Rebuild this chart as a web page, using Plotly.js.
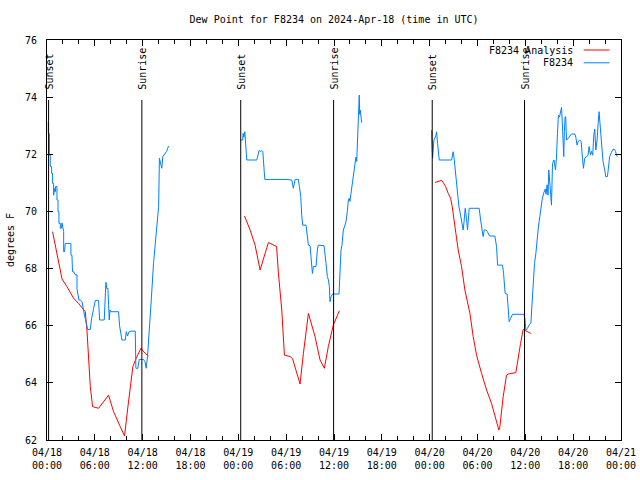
<!DOCTYPE html>
<html>
<head>
<meta charset="utf-8">
<script src="https://cdn.plot.ly/plotly-3.0.1.min.js"></script>
<style>html,body{margin:0;padding:0;background:#fff;}#chart{width:640px;height:480px;}</style>
</head>
<body>
<div id="chart"></div>
<script>
// hours since 2024-04-18 00:00 UTC, dew point in degrees F
const obsDay1Hours = [0.16,0.16,0.29,0.29,0.41,0.41,0.58,0.58,0.7,0.7,0.83,0.83,0.95,1.04,1.08,1.25,1.25,1.38,1.38,1.5,1.5,1.67,1.67,1.8,1.88,2.0,2.09,2.09,2.2,2.29,3.0,3.0,3.13,3.2,3.34,3.55,3.76,3.76,4.0,4.17,4.4,4.6,4.8,5.1,5.43,5.6,5.85,6.05,6.47,6.6,7.18,7.3,7.39,7.5,7.64,7.81,7.9,8.02,8.98,9.1,9.2,9.4,9.81,9.95,10.1,10.3,10.52,11.07,11.15,11.4,11.57,12.1,12.3,12.44,12.61,12.86,13.1,13.36,13.6,13.78,14.0,14.1,14.28,14.4,14.53,14.82,15.0,15.24];
const obsDay1Dew = [73.14,72.73,72.73,71.97,71.97,71.57,71.57,71.33,71.33,70.98,70.98,70.57,70.8,70.69,70.87,70.87,70.4,70.4,69.99,69.99,69.58,69.58,69.41,69.41,69.6,69.3,69.3,68.59,68.59,68.88,68.88,68.47,68.47,67.89,67.89,67.78,67.78,67.3,66.9,66.9,66.84,66.5,66.2,65.87,65.87,66.26,66.6,66.88,66.88,66.2,66.2,67.0,67.52,67.3,67.31,66.2,66.55,66.49,66.49,66.0,65.8,65.5,65.5,65.79,65.64,65.79,65.81,65.81,64.51,64.51,64.82,64.82,64.74,64.51,64.92,65.85,67.0,68.18,69.0,69.35,70.17,71.86,71.68,71.51,71.92,72.06,72.1,72.29];
const obsDay2Hours = [24.31,24.55,24.6,24.7,24.81,24.94,25.06,26.32,26.44,26.6,26.8,26.94,27.07,27.19,27.32,28.0,29.0,30.0,30.7,30.9,31.12,31.4,31.53,31.66,31.83,31.95,32.08,32.49,32.58,32.79,33.0,33.12,33.29,33.41,33.75,33.91,34.04,34.75,34.88,35.0,35.17,35.3,35.42,35.5,35.63,35.84,36.63,36.75,36.88,37.0,37.17,37.38,37.5,37.67,37.8,37.92,38.0,38.13,38.34,38.51,38.63,38.75,38.85,38.93,39.05,39.17,39.22,39.3,39.47];
const obsDay2Dew = [72.5,72.5,72.73,72.6,72.79,72.09,71.8,71.8,72.01,72.13,72.1,72.13,72.1,71.39,71.12,71.12,71.13,71.12,71.1,70.81,71.12,71.13,71.12,70.87,70.52,69.87,69.52,69.52,69.35,68.82,68.8,68.42,67.83,68.07,68.07,68.65,68.82,68.8,68.55,68.18,67.72,67.6,67.37,66.84,67.02,67.11,67.11,67.95,68.65,68.82,69.35,69.52,69.64,69.99,70.4,70.46,70.35,70.63,71.1,71.45,71.8,71.9,71.75,72.32,73.49,74.07,73.4,73.55,73.11];
const obsDay3Hours = [48.25,48.25,48.37,48.53,48.78,48.87,48.99,49.2,50.75,50.87,50.95,51.05,51.25,51.46,51.67,51.88,52.04,52.2,52.3,52.46,52.6,52.75,52.96,53.6,54.21,54.39,54.6,54.7,54.85,55.05,55.25,55.5,56.18,56.39,56.52,57.14,57.27,57.47,57.72,57.85,57.97,58.15,58.4,59.82,59.95,60.07,60.25,60.49,60.7,60.82,60.99,61.15,61.32,61.48,61.6,61.73,61.9,62.1,62.32,62.5,62.6,62.73,62.85,62.94,63.1,63.28,63.41,63.6,63.78,63.9,64.03,64.15,64.28,64.41,64.54,64.62,64.74,64.82,64.9,64.99,65.07,65.16,65.37,65.58,65.8,66.2,66.33,66.49,66.62,66.83,67.0,67.17,67.29,67.45,67.67,67.87,68.0,68.17,68.3,68.45,68.59,68.71,68.84,69.0,69.13,69.25,69.33,69.46,69.58,69.75,69.96,70.08,70.3,70.45,70.58,70.8,71.0,71.2,71.32,71.42,71.52];
const obsDay3Dew = [72.85,72.6,71.86,72.5,72.64,72.79,72.38,71.8,71.8,71.97,72.09,71.9,71.27,70.63,70.17,69.87,69.58,69.35,69.6,70.11,69.8,69.35,70.11,70.11,70.11,69.7,69.35,69.12,69.35,69.35,69.29,69.14,69.14,68.77,68.12,68.12,67.83,67.13,67.1,66.43,66.14,66.25,66.4,66.4,66.25,65.85,65.9,66.03,66.1,66.67,67.6,68.18,68.53,69.12,69.35,69.64,70.05,70.4,70.66,70.78,70.6,70.93,70.57,71.45,70.9,70.22,71.68,71.8,71.45,71.86,72.73,73.37,73.3,73.49,73.64,73.2,72.38,71.92,72.8,73.32,73.3,72.5,72.55,72.64,72.71,72.71,72.6,72.32,72.45,72.5,72.45,71.86,71.51,71.86,71.94,71.97,72.27,71.97,72.1,71.97,72.67,72.88,72.15,72.5,73.08,73.49,73.2,72.62,72.27,71.74,71.45,71.22,71.22,71.74,71.92,72.06,72.18,72.17,72.1,71.97,71.92];

const anaDay1Hours = [0.7,1.04,1.46,1.67,1.88,2.5,3.34,3.96,4.59,4.8,5.01,5.22,5.43,5.72,6.47,7.72,8.35,9.19,9.73,10.1,10.44,10.77,11.19,11.78,12.32,12.73];
const anaDay1Dew = [69.29,68.82,68.18,67.89,67.64,67.37,66.96,66.78,66.55,66.49,65.85,64.8,63.87,63.17,63.11,63.57,62.99,62.47,62.14,63.05,63.75,64.57,64.86,65.21,65.03,64.94];
const anaDay2Hours = [24.77,25.48,26.1,26.73,27.77,28.61,28.8,29.03,29.45,29.78,30.49,30.8,31.33,31.74,32.16,32.79,33.62,34.25,34.79,35.29,35.92,36.25,36.67];
const anaDay2Dew = [69.84,69.35,68.82,67.95,68.91,68.79,68.77,67.83,66.55,64.97,64.92,64.85,64.39,63.96,65.03,66.43,65.62,64.8,64.51,65.27,66.03,66.23,66.52];
const anaDay3Hours = [48.66,49.08,49.5,49.7,50.0,50.33,50.63,50.83,51.04,51.2,51.29,51.58,52.0,52.42,53.05,53.46,53.88,54.51,55.14,55.76,56.3,56.68,56.8,57.22,57.64,57.85,58.81,59.1,59.4,59.73,60.07,60.3,60.69];
const anaDay3Dew = [71.01,71.05,71.09,71.01,70.87,70.63,70.46,70.17,69.64,69.35,69.23,68.65,68.07,67.25,66.43,65.62,64.97,64.33,63.75,63.28,62.7,62.35,62.45,63.51,64.27,64.31,64.36,64.92,65.38,65.87,65.83,65.78,65.73];

const sunsetHours = [0.2, 24.3, 48.32];
const sunriseHours = [11.9, 35.95, 59.9];
const seriesNames = ['F8234 Analysis', 'F8234'];
const yTicks = [62, 64, 66, 68, 70, 72, 74, 76];

const BASE = Date.UTC(2024, 3, 18, 0, 0);
const H = 3600e3;
const toT = h => BASE + h * H;

function joinDays(hs, vs) {
  const x = [], y = [];
  hs.forEach((arr, i) => {
    if (i > 0) { x.push(null); y.push(null); }
    arr.forEach((h, j) => { x.push(toT(h)); y.push(vs[i][j]); });
  });
  return {x, y};
}
const obs = joinDays([obsDay1Hours, obsDay2Hours, obsDay3Hours], [obsDay1Dew, obsDay2Dew, obsDay3Dew]);
const ana = joinDays([anaDay1Hours, anaDay2Hours, anaDay3Hours], [anaDay1Dew, anaDay2Dew, anaDay3Dew]);

const FONT = {family: 'DejaVu Sans Mono, monospace', size: 10, color: '#000'};
const RED = '#ff0000', BLUE = '#0080ff';

const traces = [
  {x: ana.x, y: ana.y, mode: 'lines', name: seriesNames[0], line: {color: RED, width: 1}, connectgaps: false},
  {x: obs.x, y: obs.y, mode: 'lines', name: seriesNames[1], line: {color: BLUE, width: 1}, connectgaps: false}
];

const shapes = [], annotations = [];
function sunMark(h, label) {
  shapes.push({type: 'line', xref: 'x', yref: 'paper', x0: toT(h), x1: toT(h), y0: 0, y1: 0.85, line: {color: '#000', width: 1}});
  annotations.push({xref: 'x', yref: 'paper', x: toT(h), y: 0.87, text: label, textangle: -90, showarrow: false, xanchor: 'center', yanchor: 'bottom', font: FONT});
}
sunsetHours.forEach(h => sunMark(h, 'Sunset'));
sunriseHours.forEach(h => sunMark(h, 'Sunrise'));

// legend (text right, sample line at right)
const legY = [0.975, 0.943];
const legColors = [RED, BLUE];
seriesNames.forEach((n, i) => {
  annotations.push({xref: 'paper', yref: 'paper', x: 0.92, y: legY[i], text: n, showarrow: false, xanchor: 'right', yanchor: 'middle', font: FONT});
  shapes.push({type: 'line', xref: 'paper', yref: 'paper', x0: 0.935, x1: 0.98, y0: legY[i], y1: legY[i], line: {color: legColors[i], width: 1}});
});

const layout = {
  width: 640, height: 480,
  margin: {l: 47, r: 19, t: 40, b: 40, pad: 0},
  paper_bgcolor: '#fff', plot_bgcolor: '#fff',
  showlegend: false,
  font: FONT,
  title: {text: 'Dew Point for F8234 on 2024-Apr-18 (time in UTC)', font: FONT, x: 0.522, xanchor: 'center', y: 0.96, yanchor: 'middle'},
  xaxis: {
    type: 'date', range: [toT(0), toT(72)],
    tick0: toT(0), dtick: 6 * H, tickformat: '%m/%d<br>%H:%M',
    ticks: 'inside', ticklen: 6, tickcolor: '#000', tickwidth: 1, ticklabelstandoff: 3,
    minor: {dtick: 2 * H, ticks: 'inside', ticklen: 4, tickcolor: '#000', showgrid: false},
    showline: true, linecolor: '#000', linewidth: 1, mirror: 'ticks',
    showgrid: false, zeroline: false, tickfont: FONT
  },
  yaxis: {
    range: [62, 76], tickvals: yTicks, ticktext: yTicks.map(String),
    ticks: 'inside', ticklen: 6, tickcolor: '#000', tickwidth: 1, ticklabelstandoff: 7,
    showline: true, linecolor: '#000', linewidth: 1, mirror: 'ticks',
    showgrid: false, zeroline: false, tickfont: FONT,
    title: {text: 'degrees F', font: FONT, standoff: 8}
  },
  shapes: shapes, annotations: annotations
};

Plotly.newPlot('chart', traces, layout, {displayModeBar: false, staticPlot: true});
</script>
</body>
</html>
